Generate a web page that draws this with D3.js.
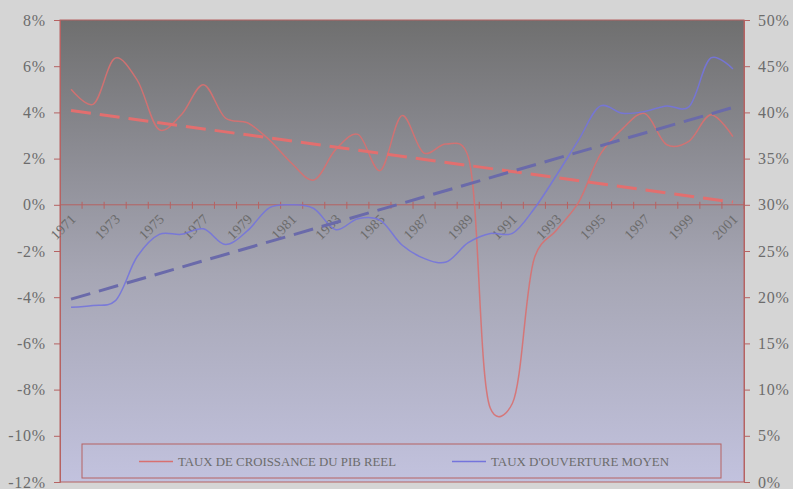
<!DOCTYPE html>
<html>
<head>
<meta charset="utf-8">
<script src="https://cdn.jsdelivr.net/npm/d3@7"></script>
<style>
  body { margin: 0; background: #d5d5d5; }
  svg { display: block; }
  text { font-family: "Liberation Serif", "Times New Roman", serif; fill: #6c6c6c; }
</style>
</head>
<body>
<div class="chart"></div>
<script>
const years = [1971, 1972, 1973, 1974, 1975, 1976, 1977, 1978, 1979, 1980,
  1981, 1982, 1983, 1984, 1985, 1986, 1987, 1988, 1989, 1990,
  1991, 1992, 1993, 1994, 1995, 1996, 1997, 1998, 1999, 2000, 2001];

// taux de croissance du PIB reel (%), axe gauche
const pib = [5.0, 4.35, 6.35, 5.4, 3.25, 3.9, 5.2, 3.75, 3.55, 2.8,
  1.8, 1.07, 2.4, 3.05, 1.48, 3.86, 2.24, 2.63, 2.08, -8.8,
  -8.6, -2.3, -1.1, 0.1, 2.2, 3.3, 3.95, 2.6, 2.75, 3.9, 2.95];

// taux d'ouverture moyen (%), axe droit
const ouverture = [18.9, 19.1, 19.6, 24.4, 26.8, 26.8, 27.4, 25.7, 27.2, 29.7,
  30.0, 29.6, 27.3, 28.5, 28.35, 25.65, 24.2, 23.8, 25.9, 26.9,
  26.9, 29.6, 33.2, 37.0, 40.7, 39.9, 40.1, 40.7, 40.6, 45.9, 44.7];

const leftTicks = [-12, -10, -8, -6, -4, -2, 0, 2, 4, 6, 8];
const rightTicks = [0, 5, 10, 15, 20, 25, 30, 35, 40, 45, 50];
const seriesNames = ['TAUX DE CROISSANCE DU PIB REEL', "TAUX D'OUVERTURE MOYEN"];

const W = 793, H = 489;
const plot = { left: 60, right: 744, top: 20, bottom: 482 };
const axisColor = '#b66262';
const redLine = '#d87070', blueLine = '#7474dc';
const redTrend = '#e26f6f', blueTrend = '#6a6aaa';

const svg = d3.select('.chart').append('svg')
    .attr('width', W)
    .attr('height', H);

const defs = svg.append('defs');
const grad = defs.append('linearGradient')
    .attr('id', 'bg')
    .attr('x1', 0).attr('y1', 0).attr('x2', 0).attr('y2', 1);
grad.append('stop').attr('offset', '0%').attr('stop-color', '#6f6f6f');
grad.append('stop').attr('offset', '55%').attr('stop-color', '#a6a6b4');
grad.append('stop').attr('offset', '100%').attr('stop-color', '#c2c2de');

svg.append('rect')
    .attr('x', plot.left)
    .attr('y', plot.top)
    .attr('width', plot.right - plot.left)
    .attr('height', plot.bottom - plot.top)
    .attr('fill', 'url(#bg)')
    .attr('stroke', axisColor)
    .attr('stroke-width', 1);

const x = d3.scaleBand().domain(years).range([plot.left, plot.right]);
const cx = d => x(d) + x.bandwidth() / 2;
const yL = d3.scaleLinear().domain([-12, 8]).range([plot.bottom, plot.top]);
const yR = d3.scaleLinear().domain([0, 50]).range([plot.bottom, plot.top]);

// axes
const gl = svg.append('g')
    .attr('transform', `translate(${plot.left},0)`)
    .call(d3.axisLeft(yL).tickValues(leftTicks).tickSize(6).tickPadding(8)
      .tickFormat(d => `${d}%`));
const gr = svg.append('g')
    .attr('transform', `translate(${plot.right},0)`)
    .call(d3.axisRight(yR).tickValues(rightTicks).tickSize(6).tickPadding(8)
      .tickFormat(d => `${d}%`));
[gl, gr].forEach(g => {
  g.select('.domain').attr('stroke', axisColor);
  g.selectAll('.tick line').attr('stroke', axisColor);
  g.selectAll('.tick text')
      .attr('font-size', 16)
      .attr('letter-spacing', 0.8)
      .attr('fill', '#6c6c6c');
});

// category axis on the 0% line
const y0 = yL(0);
svg.append('line')
    .attr('x1', plot.left).attr('x2', plot.right)
    .attr('y1', y0).attr('y2', y0)
    .attr('stroke', axisColor);
svg.append('g').selectAll('line')
    .data(years.slice(1).concat(['end']))
  .enter().append('line')
    .attr('x1', d => d === 'end' ? plot.right : x(d))
    .attr('x2', d => d === 'end' ? plot.right : x(d))
    .attr('y1', y0 - 3).attr('y2', y0 + 4)
    .attr('stroke', axisColor);

svg.append('g').selectAll('text')
    .data(years.filter((d, i) => i % 2 === 0))
  .enter().append('text')
    .attr('transform', d => `translate(${cx(d) - 1},${y0 + 8}) rotate(-45)`)
    .attr('text-anchor', 'end')
    .attr('dy', '0.7em')
    .attr('font-size', 14)
    .attr('letter-spacing', 0.3)
    .text(d => d);

// trend lines (linear regression, as the spreadsheet does)
function trend(vals) {
  const n = vals.length;
  const mx = d3.mean(vals, (v, i) => i);
  const my = d3.mean(vals);
  let sxy = 0, sxx = 0;
  vals.forEach((v, i) => { sxy += (i - mx) * (v - my); sxx += (i - mx) * (i - mx); });
  const b = sxy / sxx;
  const a = my - b * mx;
  return [0, n - 1].map(i => [years[i], a + b * i]);
}

const smooth = d3.curveCatmullRom.alpha(0.25);

const pibLine = d3.line()
    .x((d, i) => cx(years[i]))
    .y(d => yL(d))
    .curve(smooth);
const ouvLine = d3.line()
    .x((d, i) => cx(years[i]))
    .y(d => yR(d))
    .curve(smooth);

svg.append('path')
    .datum(pib)
    .attr('d', pibLine)
    .attr('fill', 'none')
    .attr('stroke', redLine)
    .attr('stroke-width', 1.5)
    .attr('stroke-opacity', 0.9);

svg.append('path')
    .datum(ouverture)
    .attr('d', ouvLine)
    .attr('fill', 'none')
    .attr('stroke', blueLine)
    .attr('stroke-width', 1.5)
    .attr('stroke-opacity', 0.9);

svg.append('path')
    .datum(trend(pib))
    .attr('d', d3.line().x(d => cx(d[0])).y(d => yL(d[1])))
    .attr('fill', 'none')
    .attr('stroke', redTrend)
    .attr('stroke-width', 3)
    .attr('stroke-dasharray', '20,9');

svg.append('path')
    .datum(trend(ouverture))
    .attr('d', d3.line().x(d => cx(d[0])).y(d => yR(d[1])))
    .attr('fill', 'none')
    .attr('stroke', blueTrend)
    .attr('stroke-width', 3)
    .attr('stroke-dasharray', '20,9');

// legend
const lg = svg.append('g');
lg.append('rect')
    .attr('x', 82).attr('y', 444)
    .attr('width', 639).attr('height', 34)
    .attr('fill', 'none')
    .attr('stroke', axisColor);
const items = [
  { name: seriesNames[0], color: redLine, x: 139, w: 218 },
  { name: seriesNames[1], color: blueLine, x: 452, w: 178 }
];
items.forEach(it => {
  lg.append('line')
      .attr('x1', it.x).attr('x2', it.x + 34)
      .attr('y1', 461.5).attr('y2', 461.5)
      .attr('stroke', it.color)
      .attr('stroke-width', 1.5);
  lg.append('text')
      .attr('x', it.x + 39)
      .attr('y', 466)
      .attr('font-size', 13)
      .attr('textLength', it.w)
      .attr('lengthAdjust', 'spacingAndGlyphs')
      .text(it.name);
});
</script>
</body>
</html>
